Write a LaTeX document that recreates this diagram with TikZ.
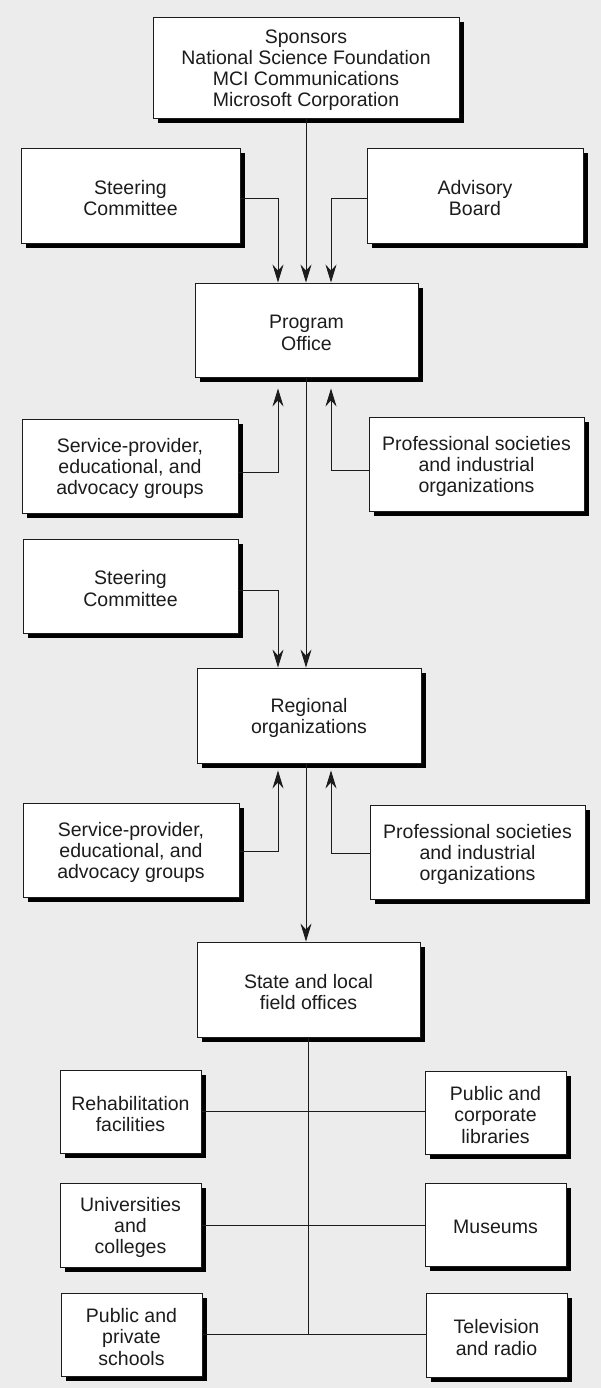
\documentclass[tikz,border=0pt]{standalone}
\usepackage{fontspec}
\setmainfont{Liberation Sans}
\usetikzlibrary{arrows.meta,shadows}
\definecolor{paper}{RGB}{236,236,236}
\definecolor{ink}{RGB}{28,28,28}
\tikzset{
  orgbox/.style={draw=ink, line width=0.9pt, fill=white, text=ink, align=center,
    inner sep=0pt, font=\fontsize{19.5}{21.3}\selectfont,
    drop shadow={shadow xshift=5pt, shadow yshift=-5pt, fill=black, opacity=1}},
  link/.style={draw=ink, line width=0.9pt},
  arr/.style={link, -{Stealth[length=18pt, width=11pt, inset=6pt]}}
}
% box from its top-left and bottom-right corners (pixel grid, y downward);
% the strut on the first line sets the text a little below the middle
\newcommand\orgnode[6]{%
  \node[orgbox, minimum width={#4-#2}, minimum height={#5-#3}]
    (#1) at ({(#2+#4)/2},{(#3+#5)/2}) {\rule{0pt}{19pt}#6};}
\begin{document}
\begin{tikzpicture}[x=1pt, y=-1pt]
  \fill[paper] (0,0) rectangle (601,1388);
  \useasboundingbox (0,0) rectangle (601,1388);

  % lanes for the vertical connectors
  \coordinate (L) at (278,0);
  \coordinate (C) at (306,0);
  \coordinate (R) at (331,0);

  \orgnode{spons}{153}{17}{459}{118}{Sponsors\\National Science Foundation\\MCI Communications\\Microsoft Corporation}
  \orgnode{steerA}{21}{148}{240}{243}{Steering\\Committee}
  \orgnode{adv}{367}{148}{583}{243}{Advisory\\Board}
  \orgnode{prog}{195}{283}{418}{377}{Program\\Office}
  \orgnode{svcA}{22}{419}{238}{513}{Service-provider,\\educational, and\\advocacy groups}
  \orgnode{profA}{369}{417}{584}{511}{Professional societies\\and industrial\\organizations}
  \orgnode{steerB}{23}{539}{238}{633}{Steering\\Committee}
  \orgnode{reg}{197}{668}{421}{763}{Regional\\organizations}
  \orgnode{svcB}{23}{803}{239}{897}{Service-provider,\\educational, and\\advocacy groups}
  \orgnode{profB}{370}{805}{585}{899}{Professional societies\\and industrial\\organizations}
  \orgnode{state}{197}{942}{420}{1037}{State and local\\field offices}
  \orgnode{rehab}{60}{1070}{201}{1153}{Rehabilitation\\facilities}
  \orgnode{publib}{425}{1071}{566}{1154}{Public and\\corporate\\libraries}
  \orgnode{univ}{60}{1183}{201}{1267}{Universities\\and\\colleges}
  \orgnode{museum}{425}{1183}{566}{1266}{Museums}
  \orgnode{school}{61}{1293}{202}{1376}{Public and\\private\\schools}
  \orgnode{tv}{426}{1293}{567}{1377}{Television\\and radio}

  % into the program office
  \draw[arr] (spons.south -| C) -- (prog.north -| C);
  \draw[arr] ([yshift=-3pt]steerA.east) -| (prog.north -| L);
  \draw[arr] ([yshift=-3pt]adv.west) -| (prog.north -| R);
  \draw[arr] ([yshift=-6pt]svcA.east) -| ([yshift=-11pt]prog.south -| L);
  \draw[arr] ([yshift=-6pt]profA.west) -| ([yshift=-11pt]prog.south -| R);

  % into the regional organizations
  \draw[arr] (prog.south -| C) -- (reg.north -| C);
  \draw[arr] ([yshift=-4pt]steerB.east) -| (reg.north -| L);
  \draw[arr] ([yshift=-1pt]svcB.east) -| ([yshift=-7pt]reg.south -| L);
  \draw[arr] ([yshift=-1pt]profB.west) -| ([yshift=-7pt]reg.south -| R);

  % down to the field offices
  \draw[arr] (reg.south -| C) -- (state.north -| C);

  % field offices and their partners
  \draw[link] (state.south) -- (state.south |- school.east);
  \draw[link] (rehab.east) -- (rehab.east -| publib.west);
  \draw[link] (univ.east) -- (univ.east -| museum.west);
  \draw[link] (school.east) -- (school.east -| tv.west);
\end{tikzpicture}
\end{document}
